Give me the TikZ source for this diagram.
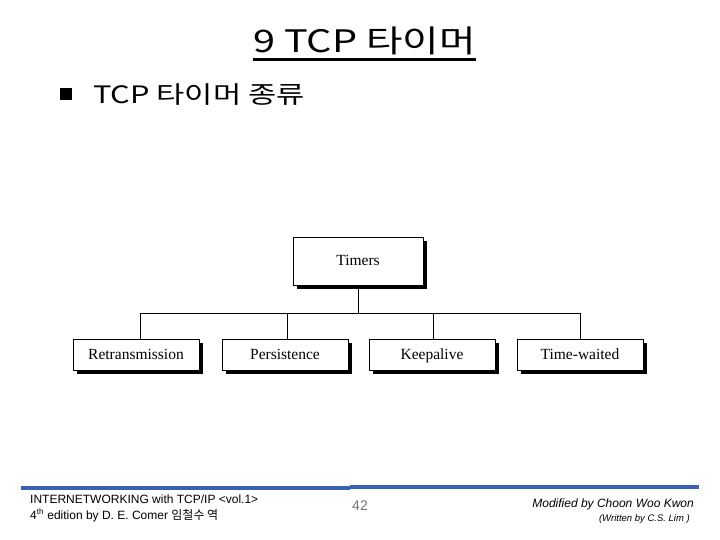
\documentclass[tikz,border=0pt]{standalone}
\usepackage{fontspec}
\usepackage{graphicx}
\setmainfont{Liberation Serif}
\setsansfont{Liberation Sans}
\newfontfamily\kr{Noto Sans CJK KR}
\newfontfamily\arial{Liberation Sans}
\definecolor{barblue}{RGB}{58,98,178}
\begin{document}
\begin{tikzpicture}[x=1pt,y=-1pt,
  tbox/.style={draw=black,fill=white,line width=0.9pt,minimum height=31pt,inner sep=0pt,
    font=\fontsize{15.5}{17}\selectfont,text height=11pt,text depth=3pt},
  shadowed/.style={preaction={fill=black,transform canvas={xshift=3.5pt,yshift=-3.5pt}}},
  conn/.style={line width=0.9pt}]
\useasboundingbox (0,0) rectangle (720,540);
% title
\node[font=\kr\fontsize{31}{34}\selectfont,anchor=base,inner sep=0pt] (title) at (364.5,53) {\scalebox{1.28}[1]{9 TCP 타이머}};
\draw[line width=2.4pt] (253,59.5) -- (476,59.5);
% bullet
\node[fill=black,minimum size=12pt,inner sep=0pt] (bul) at (66,94) {};
\node[font=\kr\fontsize{24}{28}\selectfont,anchor=base west,inner sep=0pt] (sub) at (93,104) {\scalebox{1.28}[1]{TCP 타이머 종류}};
% boxes
\node[tbox,shadowed,minimum width=130pt,minimum height=48pt] (timers) at (358,261) {Timers};
\node[tbox,shadowed,minimum width=126pt] (re) at (136,355) {Retransmission};
\node[tbox,shadowed,minimum width=126pt] (pe) at (285,355) {Persistence};
\node[tbox,shadowed,minimum width=126pt] (ke) at (432,355) {Keepalive};
\node[tbox,shadowed,minimum width=126pt] (tw) at (580,355) {Time-waited};
\coordinate (j) at (358,313);
\coordinate (jre) at (140,313);
\coordinate (jpe) at (287,313);
\coordinate (jke) at (433,313);
\coordinate (jtw) at (580,313);
\draw[conn] (timers.south) ++(0,3.5) -- (j);
\draw[conn] (jre) -- (jtw);
\draw[conn] (jre) -- (jre |- re.north);
\draw[conn] (jpe) -- (jpe |- pe.north);
\draw[conn] (jke) -- (jke |- ke.north);
\draw[conn] (jtw) -- (jtw |- tw.north);
% footer bar
\fill[barblue] (21,485.5) rectangle (350,489.5);
\fill[barblue] (350,484.8) rectangle (699,488.6);
\node[font=\arial\fontsize{12}{13}\selectfont,anchor=base west,inner sep=0pt] (f1) at (30,503) {INTERNETWORKING with TCP/IP <vol.1>};
\node[font=\arial\fontsize{12}{13}\selectfont,anchor=base west,inner sep=0pt] (f2) at (30,519) {4\textsuperscript{th} edition by D. E. Comer {\kr 임철수 역}};
\node[font=\arial\fontsize{14}{16}\selectfont,text=black!55,anchor=base,inner sep=0pt] (pg) at (360,510) {42};
\node[font=\arial\itshape\fontsize{12}{14}\selectfont,anchor=base east,inner sep=0pt] (m1) at (694,507) {Modified by Choon Woo Kwon};
\node[font=\arial\itshape\fontsize{9.5}{11}\selectfont,anchor=base east,inner sep=0pt] (m2) at (690,521) {(Written by C.S. Lim )};
\end{tikzpicture}
\end{document}
